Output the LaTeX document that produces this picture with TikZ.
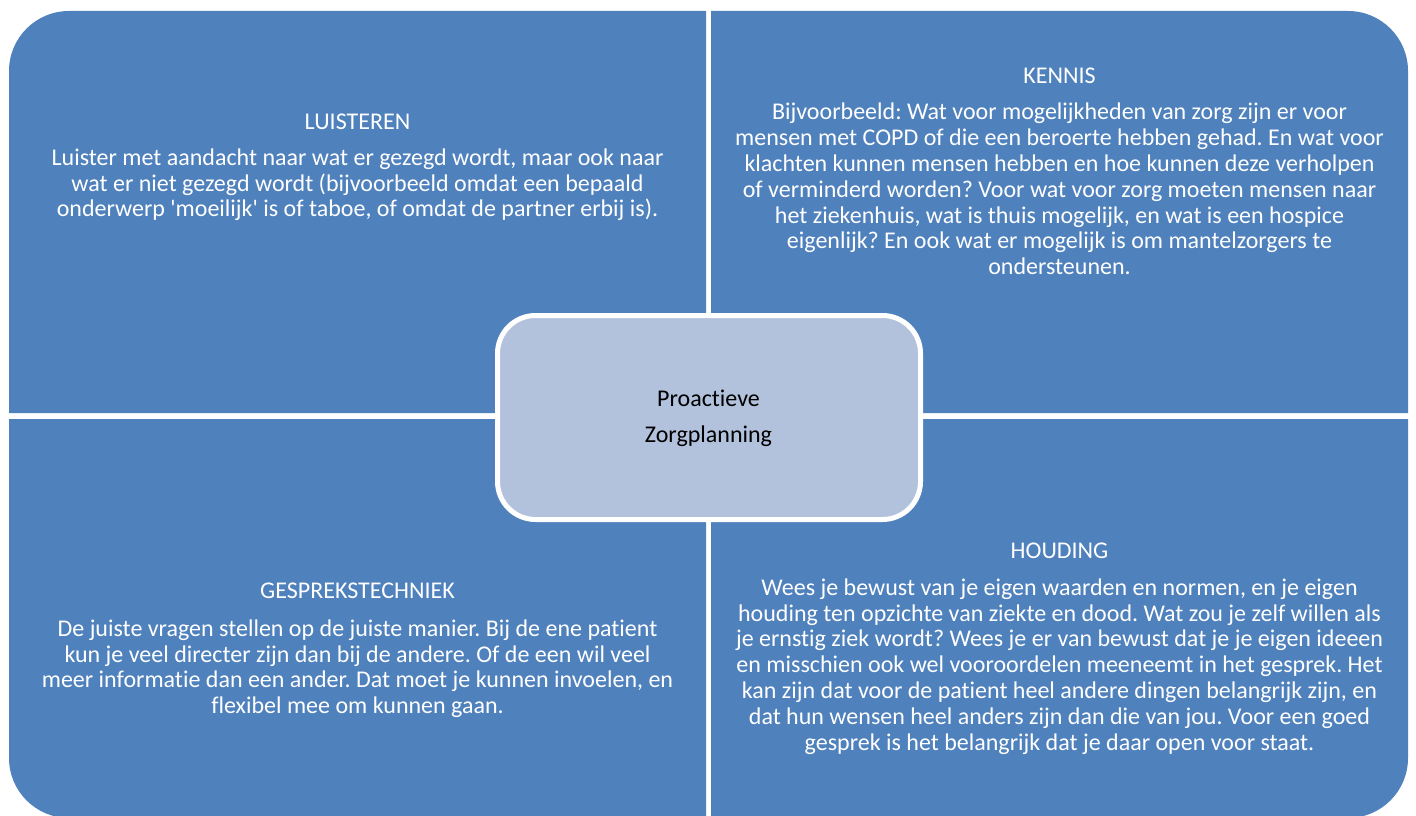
\documentclass[tikz,border=0pt]{standalone}
\usepackage{fontspec}
\setmainfont{Carlito}[Ligatures={NoCommon}]
\definecolor{quadblue}{RGB}{79,129,189}
\definecolor{centerfill}{RGB}{178,193,220}
\newcommand{\qtext}[3]{\parbox[t]{690pt}{\centering\frenchspacing\fontsize{24}{25.8}\selectfont #1\\[#2]#3}}
\begin{document}
\begin{tikzpicture}[x=1pt,y=1pt,
  quad/.style={fill=quadblue},
  qlabel/.style={anchor=base,inner sep=0pt,text=white},
  centerbox/.style={fill=centerfill,draw=white,line width=5pt,rounded corners=38pt}]
\useasboundingbox (0,0) rectangle (1416,-816);
\fill[white] (0,0) rectangle (1416,-816);
\begin{scope}
\clip (0,0) rectangle (1416,-816);
% quadrants
\fill[quad] (706,-413) -- (9,-413) -- (9,-71) arc[start angle=180,end angle=90,radius=60pt] -- (706,-11) -- cycle;
\fill[quad] (711,-413) -- (711,-11) -- (1348,-11) arc[start angle=90,end angle=0,radius=60pt] -- (1408,-413) -- cycle;
\fill[quad] (706,-419) -- (9,-419) -- (9,-758) arc[start angle=180,end angle=270,radius=60pt] -- (706,-818) -- cycle;
\fill[quad] (711,-419) -- (1408,-419) -- (1408,-758) arc[start angle=0,end angle=-90,radius=60pt] -- (711,-818) -- cycle;
\end{scope}
% texts
\node[qlabel] (luisteren) at (357.5,-129.5) {\qtext{LUISTEREN}{10pt}{Luister met aandacht naar wat er gezegd wordt, maar ook naar\\wat er niet gezegd wordt (bijvoorbeeld omdat een bepaald\\onderwerp \textquotesingle moeilijk\textquotesingle{} is of taboe, of omdat de partner erbij is).}};
\node[qlabel] (kennis) at (1059.5,-83.5) {\qtext{KENNIS}{10.5pt}{Bijvoorbeeld: Wat voor mogelijkheden van zorg zijn er voor\\mensen met COPD of die een beroerte hebben gehad. En wat voor\\klachten kunnen mensen hebben en hoe kunnen deze verholpen\\of verminderd worden? Voor wat voor zorg moeten mensen naar\\het ziekenhuis, wat is thuis mogelijk, en wat is een hospice\\eigenlijk? En ook wat er mogelijk is om mantelzorgers te\\ondersteunen.}};
\node[qlabel] (gesprek) at (357.5,-598.5) {\qtext{GESPREKSTECHNIEK}{12pt}{De juiste vragen stellen op de juiste manier. Bij de ene patient\\kun je veel directer zijn dan bij de andere. Of de een wil veel\\meer informatie dan een ander. Dat moet je kunnen invoelen, en\\flexibel mee om kunnen gaan.}};
\node[qlabel] (houding) at (1059.5,-558.5) {\qtext{HOUDING}{11pt}{Wees je bewust van je eigen waarden en normen, en je eigen\\houding ten opzichte van ziekte en dood. Wat zou je zelf willen als\\je ernstig ziek wordt? Wees je er van bewust dat je je eigen ideeen\\en misschien ook wel vooroordelen meeneemt in het gesprek. Het\\kan zijn dat voor de patient heel andere dingen belangrijk zijn, en\\dat hun wensen heel anders zijn dan die van jou. Voor een goed\\gesprek is het belangrijk dat je daar open voor staat.}};
% center
\draw[centerbox] (497.5,-315.5) rectangle (920.5,-519.5);
\node[anchor=base,inner sep=0pt] (center) at (708.5,-406.7) {\parbox[t]{400pt}{\centering\fontsize{24}{26}\selectfont Proactieve\\[10pt]Zorgplanning}};
\end{tikzpicture}
\end{document}
